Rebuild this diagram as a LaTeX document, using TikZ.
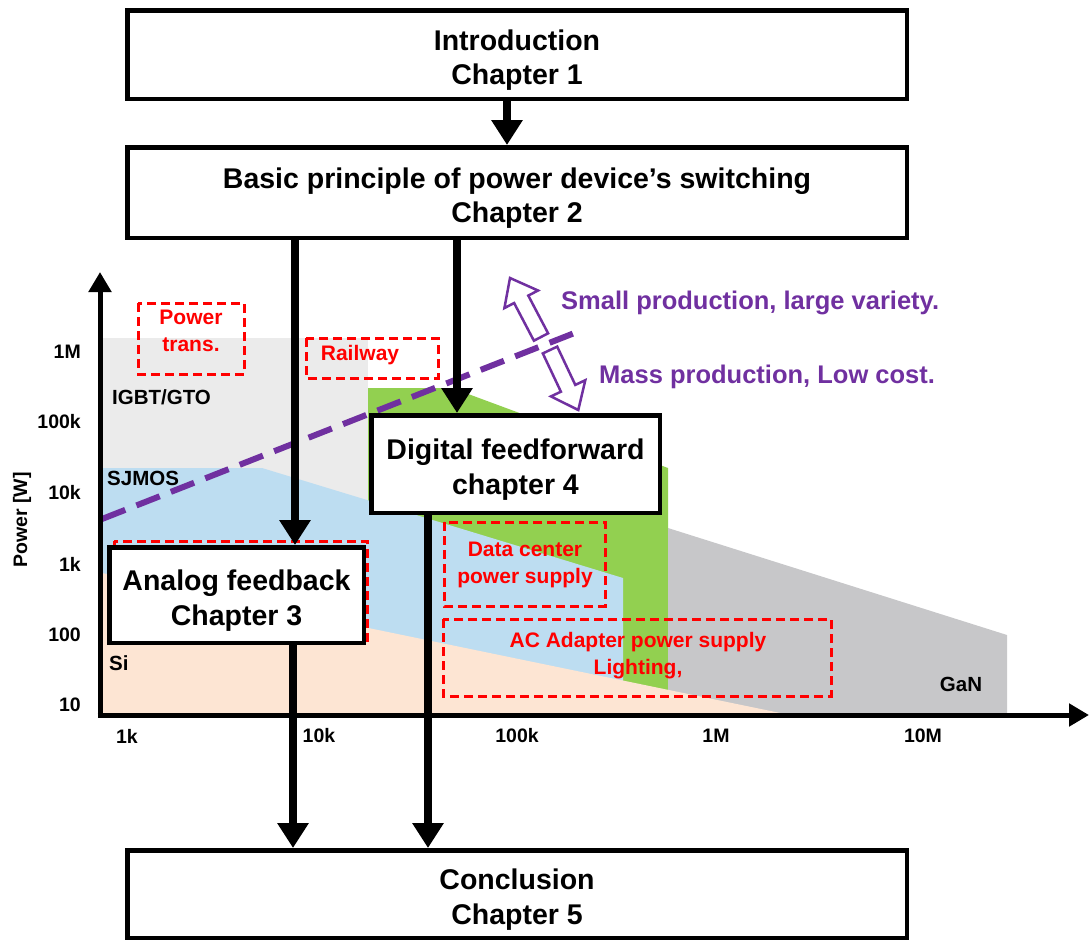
\documentclass[tikz,border=0pt]{standalone}
\usepackage{fontspec}
\setmainfont{Liberation Sans}
\usetikzlibrary{arrows.meta}
\definecolor{igbtgray}{HTML}{EBEBEB}
\definecolor{sjblue}{HTML}{BDDDF1}
\definecolor{gangreen}{HTML}{92D050}
\definecolor{gangray}{HTML}{C7C7C9}
\definecolor{sipeach}{HTML}{FDE5D3}
\definecolor{trendpurple}{HTML}{7030A0}
\tikzset{
  chapbox/.style={draw, line width=4.5pt, fill=white, inner sep=0pt,
    label={[align=center, yshift=-5.5pt, font=\fontsize{28.5}{34.5}\selectfont\bfseries]center:#1}},
  flow/.style={line width=8pt, -{Triangle[length=25pt,width=30pt]}},
  axisline/.style={line width=5pt, -{Triangle[length=20pt,width=22pt]}},
  zone/.style={draw=red, line width=3pt, dash pattern=on 9pt off 5pt},
  appl/.style={text=red, align=center, font=\fontsize{21}{27}\selectfont\bfseries},
  ticklabel/.style={font=\fontsize{19.5}{20}\selectfont\bfseries, inner sep=0pt},
  devlabel/.style={font=\fontsize{20.5}{22}\selectfont\bfseries, inner sep=0pt},
  trendtext/.style={text=trendpurple, anchor=west, inner sep=0pt,
    font=\fontsize{25.5}{28}\selectfont\bfseries},
  hollowarrow/.style={draw=trendpurple, line width=2.5pt, fill=white, line join=miter}
}
\begin{document}
\begin{tikzpicture}[x=1pt,y=-1pt]
\useasboundingbox (0,0) rectangle (1089,945);

% device regions of the power/frequency chart
\fill[igbtgray] (102,338) rectangle (368,715);
\fill[gangreen] (368,388) -- (452,388) -- (668,468) -- (668,715) -- (368,715) -- cycle;
\fill[gangray] (668,528) -- (1007,635) -- (1007,715) -- (668,715) -- cycle;
\fill[sjblue] (102,468) -- (262,468) -- (623,578) -- (623,715) -- (102,715) -- cycle;
\fill[sipeach] (102,573) -- (790,715) -- (102,715) -- cycle;

% application zones
\draw[zone] (138,303) rectangle (244,374);
\node[appl] (powertrans) at (191,331) {Power\\trans.};
\draw[zone] (306,338) rectangle (438,378);
\node[appl] (railway) at (360,355) {Railway};
\draw[zone] (114,541) rectangle (367,640);
\draw[zone] (444,522) rectangle (605,606);
\node[appl] (datacenter) at (525,565) {Data center\\power supply};
\draw[zone] (443,619) rectangle (831,696);
\node[appl] (adapter) at (638,656) {AC Adapter power supply\\Lighting,};

% device labels
\node[devlabel, anchor=west] (igbt) at (112,397) {IGBT/GTO};
\node[devlabel, anchor=west] (sjmos) at (107,478) {SJMOS};
\node[devlabel, anchor=west] (si) at (109,663) {Si};
\node[devlabel] (gan) at (961,684) {GaN};

% production trend line and hollow arrows
\draw[trendpurple, line width=6pt, dash pattern=on 25pt off 12pt] (102,519) -- (577,332);
\draw[hollowarrow] (548.1,333.3) -- (528.3,295.6) -- (538.0,290.5) -- (510,278)
  -- (504.4,308.1) -- (514.1,303.0) -- (533.9,340.7) -- cycle;
\draw[hollowarrow] (557.2,346.6) -- (575.3,384.9) -- (585.3,380.2) -- (578.3,410)
  -- (550.9,396.4) -- (560.9,391.7) -- (542.8,353.4) -- cycle;
\node[trendtext] (small) at (561,303) {Small production, large variety.};
\node[trendtext] (mass) at (599,377) {Mass production, Low cost.};

% axes
\coordinate (origin) at (100,715);
\coordinate (ytip) at (100,272);
\coordinate (xtip) at (1089,715);
\draw[axisline] ([yshift=-2.5pt]origin) -- (ytip);
\draw[axisline] ([xshift=-2.5pt]origin) -- (xtip);

% axis tick labels
\node[ticklabel, anchor=east] (y1M) at (81,352) {1M};
\node[ticklabel, anchor=east] (y100k) at (81,422) {100k};
\node[ticklabel, anchor=east] (y10k) at (81,493) {10k};
\node[ticklabel, anchor=east] (y1k) at (81,564) {1k};
\node[ticklabel, anchor=east] (y100) at (81,635) {100};
\node[ticklabel, anchor=east] (y10) at (81,705) {10};
\node[ticklabel] (x1k) at (127,736) {1k};
\node[ticklabel] (x10k) at (319,736) {10k};
\node[ticklabel] (x100k) at (517,736) {100k};
\node[ticklabel] (x1M) at (716,736) {1M};
\node[ticklabel] (x10M) at (923,736) {10M};
\node[ticklabel, rotate=90] (ylabel) at (22,520) {Power [W]};

% chapter boxes
\node[chapbox={Introduction\\Chapter 1}, minimum width=779.5pt, minimum height=88.5pt] (intro) at (517,54.5) {};
\node[chapbox={Basic principle of power device’s switching\\Chapter 2}, minimum width=779.5pt, minimum height=90.5pt] (basic) at (517,192.5) {};
\node[chapbox={Digital feedforward\\chapter 4}, minimum width=288.5pt, minimum height=97.5pt] (digital) at (515.5,464) {};
\node[chapbox={Analog feedback\\Chapter 3}, minimum width=254.5pt, minimum height=95.5pt] (analog) at (236.5,595) {};
\node[chapbox={Conclusion\\Chapter 5}, minimum width=779.5pt, minimum height=87.5pt] (concl) at (517,894) {};

% flow between chapters
\draw[flow] ([xshift=-10pt]intro.south) -- ([xshift=-10pt]basic.north);
\draw[flow] ([xshift=-222pt]basic.south) -- ([xshift=58.5pt]analog.north);
\draw[flow] ([xshift=-60pt]basic.south) -- ([xshift=-58.5pt]digital.north);
\draw[flow] ([xshift=56.5pt]analog.south) -- ([xshift=-224pt]concl.north);
\draw[flow] ([xshift=-87.5pt]digital.south) -- ([xshift=-89pt]concl.north);
\end{tikzpicture}
\end{document}
